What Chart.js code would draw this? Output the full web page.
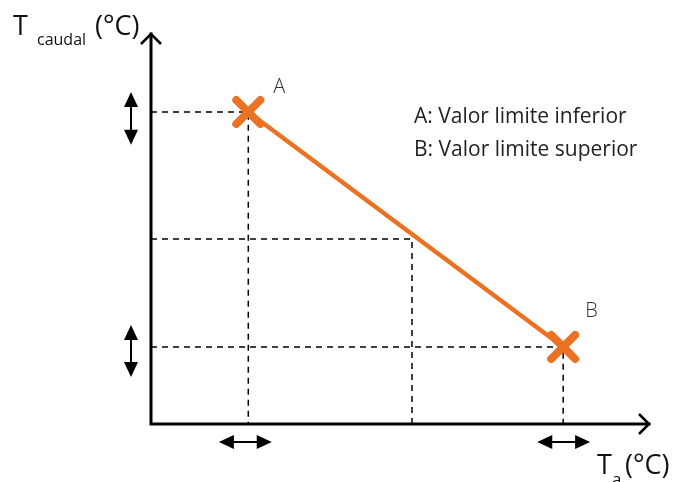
<!DOCTYPE html>
<html>
<head>
<meta charset="utf-8">
<script src="https://cdn.jsdelivr.net/npm/chart.js@4"></script>
<style>
  html, body { margin: 0; padding: 0; background: #fff; }
  #wrap { width: 688px; height: 482px; }
</style>
</head>
<body>
<div id="wrap"><canvas id="heatCurve"></canvas></div>
<script>
// curva de calefaccion: temperatura exterior vs temperatura de caudal
const pointLabels = ['A', 'B']
const tempExterior = [1.95, 8.26]
const tempCaudal = [7.98, 1.97]
const midExterior = 5.23
const midCaudal = 4.73
const legendLines = ['A: Valor limite inferior', 'B: Valor limite superior']
// margen de ajuste de cada punto [min, max]
const rangeExterior = [[1.36, 2.42], [7.74, 8.80]]
const rangeCaudal = [[7.14, 8.49], [1.20, 2.53]]

const orange = '#EB7123'
const font = '"Open Sans", "Noto Sans", sans-serif'

const arrowHead = (ctx, x, y, dx, dy) => {
    // triangulo relleno apuntando en (dx, dy)
    const len = 15, half = 7
    ctx.beginPath()
    ctx.moveTo(x, y)
    ctx.lineTo(x - dx * len - dy * half, y - dy * len + dx * half)
    ctx.lineTo(x - dx * len + dy * half, y - dy * len - dx * half)
    ctx.closePath()
    ctx.fill()
}

const doubleArrow = (ctx, x1, y1, x2, y2) => {
    const d = Math.hypot(x2 - x1, y2 - y1)
    const dx = (x2 - x1) / d, dy = (y2 - y1) / d
    ctx.beginPath()
    ctx.moveTo(x1 + dx * 6, y1 + dy * 6)
    ctx.lineTo(x2 - dx * 6, y2 - dy * 6)
    ctx.stroke()
    arrowHead(ctx, x2, y2, dx, dy)
    arrowHead(ctx, x1, y1, -dx, -dy)
}

const decorations = {
    id: 'decorations',
    beforeDatasetsDraw(chart) {
        const ctx = chart.ctx
        const xs = chart.scales.x, ys = chart.scales.y
        const x0 = xs.getPixelForValue(0), y0 = ys.getPixelForValue(0)
        ctx.save()
        // lineas de guia discontinuas
        ctx.strokeStyle = '#000'
        ctx.lineWidth = 1.5
        ctx.setLineDash([6, 5])
        const guides = tempExterior.map((t, i) => [t, tempCaudal[i]])
        guides.push([midExterior, midCaudal])
        for (const [gx, gy] of guides) {
            const px = xs.getPixelForValue(gx), py = ys.getPixelForValue(gy)
            ctx.beginPath()
            ctx.moveTo(x0, py)
            ctx.lineTo(px, py)
            ctx.lineTo(px, y0)
            ctx.stroke()
        }
        ctx.setLineDash([])

        // ejes con flecha
        const xEnd = xs.getPixelForValue(xs.max), yEnd = ys.getPixelForValue(ys.max)
        ctx.lineWidth = 3
        ctx.lineCap = 'square'
        ctx.beginPath()
        ctx.moveTo(x0, yEnd + 1)
        ctx.lineTo(x0, y0)
        ctx.lineTo(xEnd - 1, y0)
        ctx.stroke()
        ctx.lineCap = 'butt'
        ctx.lineWidth = 2.5
        ctx.beginPath()
        ctx.moveTo(x0 - 10, yEnd + 11)
        ctx.lineTo(x0, yEnd + 1)
        ctx.lineTo(x0 + 10, yEnd + 11)
        ctx.moveTo(xEnd - 11, y0 - 10)
        ctx.lineTo(xEnd - 1, y0)
        ctx.lineTo(xEnd - 11, y0 + 10)
        ctx.stroke()

        // flechas dobles de tolerancia
        ctx.fillStyle = '#000'
        ctx.lineWidth = 2
        const axX = x0 - 20, axY = y0 + 18
        for (let i = 0; i < tempExterior.length; i++) {
            const [ex1, ex2] = rangeExterior[i]
            doubleArrow(ctx, xs.getPixelForValue(ex1), axY, xs.getPixelForValue(ex2), axY)
            const [cy1, cy2] = rangeCaudal[i]
            doubleArrow(ctx, axX, ys.getPixelForValue(cy2), axX, ys.getPixelForValue(cy1))
        }

        // textos de ejes
        ctx.fillStyle = '#111'
        ctx.textBaseline = 'alphabetic'
        ctx.textAlign = 'left'
        ctx.font = '27px ' + font
        ctx.fillText('T', 13, 35)
        ctx.fillText('(°C)', 95, 35)
        ctx.font = '16px ' + font
        ctx.fillText('caudal', 37, 45)
        ctx.font = '27px ' + font
        ctx.fillText('T', 597, 474)
        ctx.fillText('(°C)', 625, 474)
        ctx.font = '17px ' + font
        ctx.fillText('a', 612, 485)

        // leyenda
        ctx.fillStyle = '#222'
        ctx.font = '21px ' + font
        legendLines.forEach((l, i) => ctx.fillText(l, 414, 123 + i * 33))

        // etiquetas de puntos
        ctx.fillStyle = '#333'
        ctx.font = '300 20px ' + font
        const offsets = [[25, -19], [22, -30]]
        pointLabels.forEach((l, i) => {
            const px = xs.getPixelForValue(tempExterior[i]), py = ys.getPixelForValue(tempCaudal[i])
            ctx.fillText(l, px + offsets[i][0], py + offsets[i][1])
        })
        ctx.restore()
    },
    beforeDatasetDraw(chart) {
        chart.ctx.save()
        chart.ctx.lineCap = 'round'
    },
    afterDatasetDraw(chart) {
        chart.ctx.restore()
    }
}

new Chart(document.getElementById('heatCurve'), {
    type: 'line',
    data: {
        datasets: [{
            data: tempExterior.map((t, i) => ({ x: t, y: tempCaudal[i] })),
            borderColor: orange,
            borderWidth: 4.5,
            pointStyle: 'crossRot',
            pointRadius: 17,
            pointBorderWidth: 8,
            pointBorderColor: orange,
            pointBackgroundColor: orange,
            tension: 0
        }]
    },
    options: {
        responsive: true,
        maintainAspectRatio: false,
        animation: false,
        events: [],
        layout: { padding: { left: 151, right: 38, top: 33, bottom: 58 } },
        plugins: { legend: { display: false }, tooltip: { enabled: false } },
        scales: {
            x: { type: 'linear', min: 0, max: 10, display: false },
            y: { type: 'linear', min: 0, max: 10, display: false }
        }
    },
    plugins: [decorations]
})
</script>
</body>
</html>
